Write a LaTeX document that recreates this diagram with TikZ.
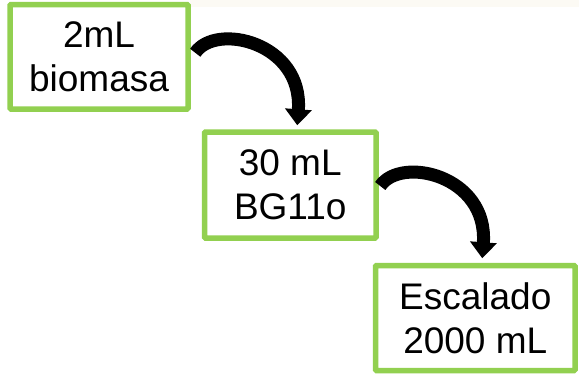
\documentclass[tikz,border=0pt]{standalone}
\usepackage{fontspec}
\setmainfont{Liberation Sans}
\usetikzlibrary{arrows.meta,calc}
\definecolor{boxgreen}{RGB}{146,208,80}
\definecolor{topstrip}{RGB}{252,250,244}
\begin{document}
\begin{tikzpicture}[x=1pt,y=-1pt,
  stagebox/.style={draw=boxgreen,line width=5.5pt,fill=white,rounded corners=1pt,
    align=center,inner sep=0pt,font=\fontsize{37}{44}\selectfont},
  bigarrow/.style={line width=13pt,-{Triangle[width=26pt,length=16pt]}}]
\useasboundingbox (0,0) rectangle (579,375);
\fill[topstrip] (190,0) rectangle (579,7);
\node[stagebox,minimum width=178pt,minimum height=104.5pt] (b1) at (99,56.75) {2mL\\biomasa};
\node[stagebox,minimum width=171.5pt,minimum height=106pt] (b2) at (290.25,185) {30 mL\\BG11o};
\node[stagebox,minimum width=199.5pt,minimum height=105pt] (b3) at (475.25,318) {Escalado\\2000 mL};
\coordinate (a1s) at ($(b1.east)+(4.5,-4)$);
\coordinate (a1e) at ($(b2.north)+(7,-4)$);
\coordinate (a2s) at ($(b2.east)+(1.5,1)$);
\coordinate (a2e) at ($(b3.north)+(7,-4.5)$);
\draw[bigarrow] (a1s) .. controls +(20.5,-30.5) and +(6,-83) .. (a1e);
\draw[bigarrow] (a2s) .. controls +(20.5,-30.5) and +(6,-83) .. (a2e);
\end{tikzpicture}
\end{document}
